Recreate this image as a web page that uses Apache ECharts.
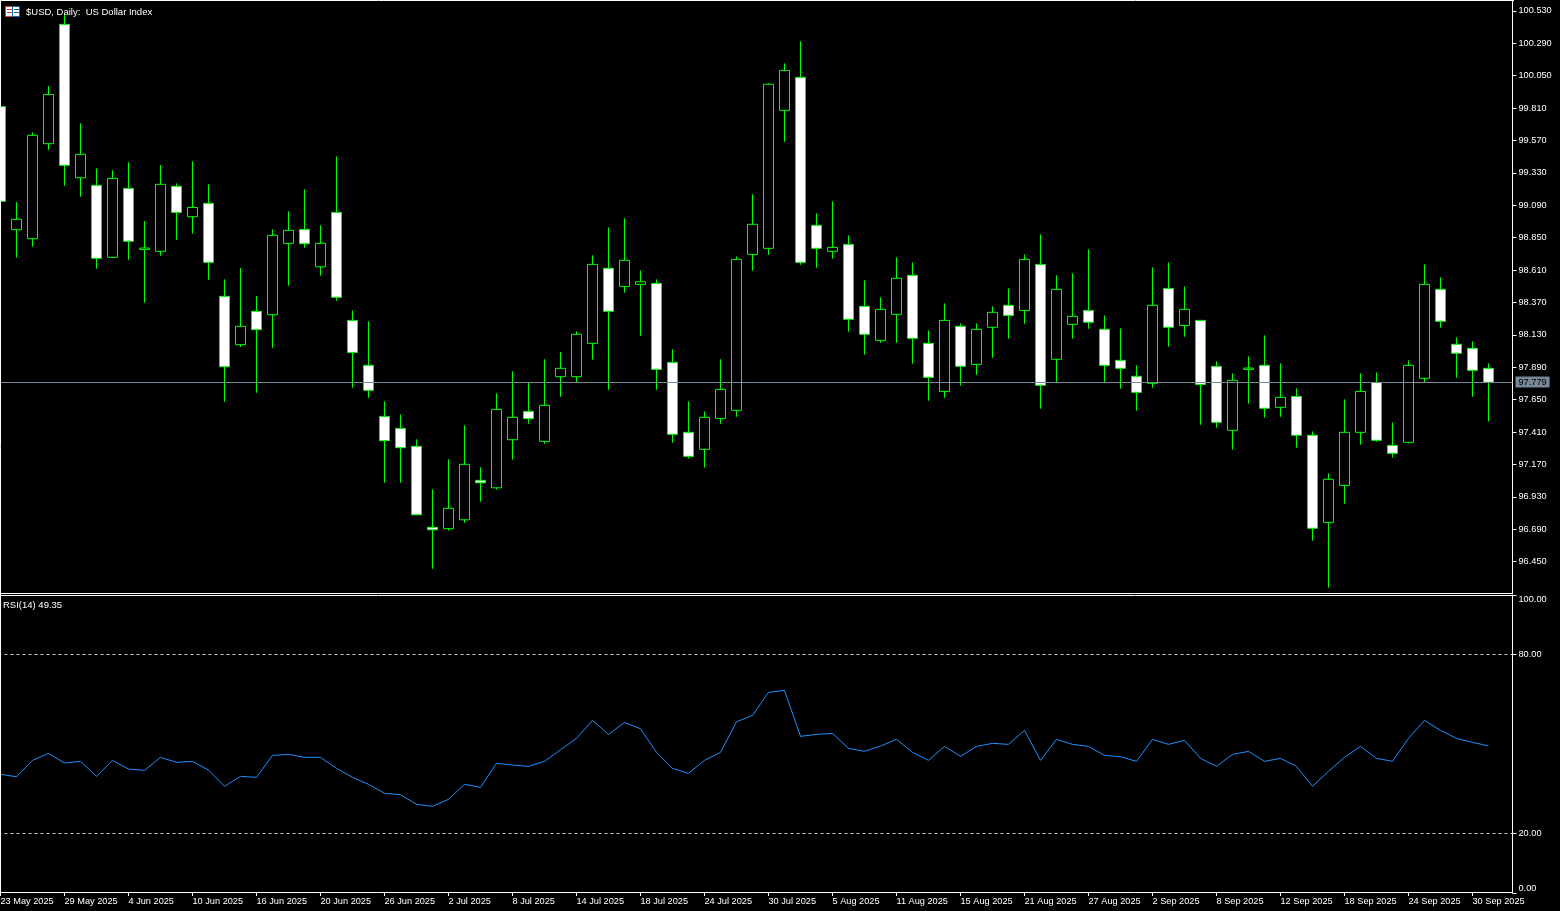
<!DOCTYPE html>
<html>
<head>
<meta charset="utf-8">
<title>$USD, Daily</title>
<script src="https://cdn.jsdelivr.net/npm/echarts@6/dist/echarts.min.js"></script>
<style>
html, body { margin: 0; padding: 0; background: #000; }
#chart { width: 1560px; height: 911px; }
</style>
</head>
<body>
<div id="chart"></div>
<script>
const dates = [
    "23 May 2025", "26 May 2025", "27 May 2025", "28 May 2025", "29 May 2025", "30 May 2025", "2 Jun 2025", "3 Jun 2025",
    "4 Jun 2025", "5 Jun 2025", "6 Jun 2025", "9 Jun 2025", "10 Jun 2025", "11 Jun 2025", "12 Jun 2025", "13 Jun 2025",
    "16 Jun 2025", "17 Jun 2025", "18 Jun 2025", "19 Jun 2025", "20 Jun 2025", "23 Jun 2025", "24 Jun 2025", "25 Jun 2025",
    "26 Jun 2025", "27 Jun 2025", "30 Jun 2025", "1 Jul 2025", "2 Jul 2025", "3 Jul 2025", "4 Jul 2025", "7 Jul 2025",
    "8 Jul 2025", "9 Jul 2025", "10 Jul 2025", "11 Jul 2025", "14 Jul 2025", "15 Jul 2025", "16 Jul 2025", "17 Jul 2025",
    "18 Jul 2025", "21 Jul 2025", "22 Jul 2025", "23 Jul 2025", "24 Jul 2025", "25 Jul 2025", "28 Jul 2025", "29 Jul 2025",
    "30 Jul 2025", "31 Jul 2025", "1 Aug 2025", "4 Aug 2025", "5 Aug 2025", "6 Aug 2025", "7 Aug 2025", "8 Aug 2025",
    "11 Aug 2025", "12 Aug 2025", "13 Aug 2025", "14 Aug 2025", "15 Aug 2025", "18 Aug 2025", "19 Aug 2025", "20 Aug 2025",
    "21 Aug 2025", "22 Aug 2025", "25 Aug 2025", "26 Aug 2025", "27 Aug 2025", "28 Aug 2025", "29 Aug 2025", "1 Sep 2025",
    "2 Sep 2025", "3 Sep 2025", "4 Sep 2025", "5 Sep 2025", "8 Sep 2025", "9 Sep 2025", "10 Sep 2025", "11 Sep 2025",
    "12 Sep 2025", "15 Sep 2025", "16 Sep 2025", "17 Sep 2025", "18 Sep 2025", "19 Sep 2025", "22 Sep 2025", "23 Sep 2025",
    "24 Sep 2025", "25 Sep 2025", "26 Sep 2025", "29 Sep 2025", "30 Sep 2025", "1 Oct 2025"
];
const opens = [
    99.820, 98.909, 98.842, 99.546, 100.430, 99.294, 99.237, 98.704, 99.215, 98.763,
    98.749, 99.230, 99.005, 99.104, 98.415, 98.057, 98.304, 98.279, 98.808, 98.911,
    98.634, 99.037, 98.237, 97.904, 97.526, 97.437, 97.304, 96.704, 96.694, 96.760,
    97.052, 96.997, 97.353, 97.563, 97.341, 97.820, 97.820, 98.067, 98.623, 98.489,
    98.504, 98.511, 97.926, 97.408, 97.282, 97.511, 97.571, 98.726, 98.771, 99.793,
    100.037, 98.941, 98.749, 98.800, 98.341, 98.089, 98.282, 98.571, 98.067, 97.711,
    98.193, 97.911, 98.186, 98.349, 98.311, 98.652, 97.949, 98.208, 98.311, 98.171,
    97.941, 97.823, 97.771, 98.474, 98.200, 98.237, 97.897, 97.423, 97.874, 97.904,
    97.593, 97.674, 97.386, 96.741, 97.015, 97.408, 97.778, 97.311, 97.334, 97.808,
    98.467, 98.060, 98.030, 97.882
];
const closes = [
    99.119, 98.986, 99.608, 99.911, 99.386, 99.467, 98.697, 99.289, 98.823, 98.773,
    99.245, 99.037, 99.074, 98.667, 97.894, 98.193, 98.168, 98.867, 98.904, 98.805,
    98.808, 98.408, 98.000, 97.719, 97.346, 97.294, 96.797, 96.686, 96.845, 97.171,
    97.034, 97.578, 97.519, 97.509, 97.608, 97.882, 98.134, 98.652, 98.304, 98.682,
    98.523, 97.874, 97.393, 97.230, 97.519, 97.726, 98.689, 98.949, 99.986, 100.089,
    98.667, 98.771, 98.778, 98.245, 98.134, 98.319, 98.549, 98.104, 97.815, 98.237,
    97.897, 98.171, 98.297, 98.274, 98.689, 97.756, 98.467, 98.267, 98.223, 97.904,
    97.882, 97.704, 98.349, 98.186, 98.319, 97.763, 97.482, 97.793, 97.884, 97.586,
    97.667, 97.386, 96.697, 97.060, 97.408, 97.711, 97.349, 97.252, 97.904, 98.504,
    98.230, 97.993, 97.867, 97.779
];
const lows = [
    99.119, 98.701, 98.783, 99.501, 99.234, 99.153, 98.620, 98.704, 98.686, 98.368,
    98.716, 98.834, 98.879, 98.538, 97.634, 98.040, 97.701, 98.034, 98.494, 98.775,
    98.568, 98.383, 97.738, 97.664, 97.034, 97.034, 96.797, 96.397, 96.679, 96.738,
    96.894, 96.983, 97.205, 97.471, 97.323, 97.671, 97.780, 97.946, 97.723, 98.442,
    98.123, 97.723, 97.331, 97.212, 97.146, 97.471, 97.523, 98.605, 98.723, 99.560,
    98.649, 98.627, 98.694, 98.153, 97.983, 98.071, 98.071, 97.916, 97.642, 97.664,
    97.753, 97.834, 97.960, 98.101, 98.212, 97.583, 97.778, 98.101, 98.175, 97.778,
    97.731, 97.568, 97.738, 98.042, 98.116, 97.464, 97.442, 97.279, 97.620, 97.516,
    97.523, 97.294, 96.605, 96.257, 96.879, 97.316, 97.338, 97.220, 97.326, 97.778,
    98.183, 97.812, 97.671, 97.489
];
const highs = [
    99.820, 99.114, 99.630, 99.973, 100.511, 99.697, 99.363, 99.349, 99.408, 98.973,
    99.388, 99.252, 99.415, 99.245, 98.541, 98.625, 98.417, 98.911, 99.045, 99.208,
    98.941, 99.452, 98.311, 98.230, 97.637, 97.541, 97.356, 96.986, 97.208, 97.460,
    97.149, 97.697, 97.860, 97.775, 97.949, 98.003, 98.156, 98.719, 98.926, 98.993,
    98.608, 98.541, 98.023, 97.637, 97.563, 97.949, 98.711, 99.171, 99.993, 100.141,
    100.304, 99.030, 99.119, 98.867, 98.534, 98.408, 98.704, 98.667, 98.163, 98.363,
    98.215, 98.215, 98.341, 98.474, 98.726, 98.874, 98.571, 98.586, 98.763, 98.274,
    98.178, 97.904, 98.630, 98.667, 98.489, 98.237, 97.934, 97.845, 97.971, 98.126,
    97.919, 97.734, 97.415, 97.104, 97.652, 97.845, 97.852, 97.482, 97.941, 98.652,
    98.556, 98.111, 98.082, 97.919
];
const rsiValues = [
    39.82, 39.01, 44.51, 46.86, 43.61, 44.18, 39.15, 44.51, 41.60, 41.16,
    45.52, 43.84, 44.18, 41.26, 35.79, 39.15, 38.81, 46.19, 46.53, 45.52,
    45.52, 41.83, 38.81, 36.47, 33.45, 32.98, 29.76, 29.09, 31.44, 36.47,
    35.46, 43.51, 42.94, 42.50, 44.18, 48.07, 51.89, 57.93, 53.23, 57.26,
    55.11, 47.20, 41.83, 40.15, 44.51, 47.20, 57.46, 59.60, 67.32, 67.99,
    52.56, 53.23, 53.57, 48.54, 47.53, 49.31, 51.56, 47.20, 44.51, 49.21,
    45.86, 49.21, 50.22, 49.88, 54.57, 44.51, 51.56, 49.88, 49.21, 46.19,
    45.72, 44.18, 51.56, 49.88, 51.22, 45.18, 42.50, 46.53, 47.53, 44.18,
    45.18, 42.50, 35.79, 40.83, 45.52, 49.21, 45.18, 44.18, 51.89, 57.93,
    54.57, 51.89, 50.55, 49.35
];
const priceTicks = [100.53, 100.29, 100.05, 99.81, 99.57, 99.33, 99.09, 98.85, 98.61, 98.37, 98.13, 97.89, 97.65, 97.41, 97.17, 96.93, 96.69, 96.45];
const rsiTicks = [0, 20, 80, 100];
const rsiLevels = [20, 80];
const lastPrice = 97.779;

const FONT = "Liberation Sans";
const FRAME = "#ffffff";
// one empty slot on the right keeps the gap before the price scale
const axisDates = [...dates, ""];
const candles = dates.map((_, i) => [opens[i], closes[i], lows[i], highs[i]]);
const everyFourth = (i) => i % 4 === 0 && i < dates.length;

const chart = echarts.init(document.getElementById("chart"), null, { renderer: "canvas" });
chart.setOption({
    animation: false,
    backgroundColor: "#000000",
    title: [
        {
            text: "$USD, Daily:  US Dollar Index",
            left: 26,
            top: 7,
            padding: 0,
            textStyle: { color: "#fff", fontFamily: FONT, fontSize: 9.5, fontWeight: "normal" },
        },
        {
            text: "RSI(14) 49.35",
            left: 3,
            top: 600,
            padding: 0,
            textStyle: { color: "#fff", fontFamily: FONT, fontSize: 9.5, fontWeight: "normal" },
        },
    ],
    // the first candle sits half off the left edge, so the grids start left of the canvas
    grid: [
        { left: -7.5, width: 1520, top: 1, height: 592.5, outerBoundsMode: "none" },
        { left: -7.5, width: 1520, top: 595, height: 298, outerBoundsMode: "none" },
    ],
    xAxis: [
        {
            type: "category",
            gridIndex: 0,
            data: axisDates,
            axisLine: { lineStyle: { color: FRAME } },
            axisTick: { show: false },
            axisLabel: { show: false },
            splitLine: { show: false },
        },
        {
            type: "category",
            gridIndex: 1,
            data: axisDates,
            offset: -1,
            axisLine: { lineStyle: { color: FRAME } },
            axisTick: { show: true, alignWithLabel: true, interval: (i) => everyFourth(i), length: 4, lineStyle: { color: FRAME } },
            axisLabel: {
                interval: (i) => everyFourth(i),
                align: "left",
                margin: 5,
                color: "#fff",
                fontFamily: FONT,
                fontSize: 9.2,
            },
            splitLine: { show: false },
        },
    ],
    yAxis: [
        {
            type: "value",
            gridIndex: 0,
            position: "right",
            min: 96.214,
            max: 100.603,
            axisLine: { show: true, lineStyle: { color: FRAME } },
            axisTick: { show: true, length: 4, customValues: priceTicks, lineStyle: { color: FRAME } },
            axisLabel: {
                customValues: priceTicks,
                formatter: (v) => v.toFixed(3),
                margin: 6,
                color: "#fff",
                fontFamily: FONT,
                fontSize: 9.2,
            },
            splitLine: { show: false },
        },
        {
            type: "value",
            gridIndex: 1,
            position: "right",
            min: 0,
            max: 100,
            axisLine: { show: true, lineStyle: { color: FRAME } },
            axisTick: { show: true, length: 4, customValues: rsiTicks, lineStyle: { color: FRAME } },
            axisLabel: {
                customValues: rsiTicks,
                formatter: (v) => v.toFixed(2),
                margin: 6,
                verticalAlignMinLabel: "bottom",
                verticalAlignMaxLabel: "top",
                color: "#fff",
                fontFamily: FONT,
                fontSize: 9.2,
            },
            splitLine: { show: false },
        },
    ],
    series: [
        {
            name: "$USD",
            type: "candlestick",
            xAxisIndex: 0,
            yAxisIndex: 0,
            barWidth: 10,
            data: candles,
            itemStyle: {
                color: "#000000",
                color0: "#ffffff",
                borderColor: "#00ff00",
                borderColor0: "#00ff00",
                borderWidth: 1,
            },
            markLine: {
                silent: true,
                symbol: "none",
                animation: false,
                lineStyle: { color: "#778899", type: "solid", width: 1 },
                label: {
                    show: true,
                    position: "end",
                    formatter: () => lastPrice.toFixed(3),
                    distance: 3,
                    color: "#000",
                    backgroundColor: "#778899",
                    padding: [1, 3, 1, 3],
                    fontFamily: FONT,
                    fontSize: 9.2,
                },
                data: [{ yAxis: lastPrice }],
            },
        },
        {
            name: "RSI(14)",
            type: "line",
            xAxisIndex: 1,
            yAxisIndex: 1,
            data: rsiValues,
            showSymbol: false,
            smooth: false,
            lineStyle: { color: "#1e90ff", width: 1 },
            markLine: {
                silent: true,
                symbol: "none",
                animation: false,
                label: { show: false },
                lineStyle: { color: "#c8c8c8", type: [3, 3], width: 1 },
                data: rsiLevels.map((v) => ({ yAxis: v })),
            },
        },
    ],
    graphic: [
        // frame pieces the axes do not draw
        { type: "line", silent: true, z: 50, shape: { x1: 0.5, y1: 0, x2: 0.5, y2: 893 }, style: { stroke: FRAME, lineWidth: 1 } },
        { type: "line", silent: true, z: 50, shape: { x1: 0, y1: 0.5, x2: 1514, y2: 0.5 }, style: { stroke: FRAME, lineWidth: 1 } },
        { type: "line", silent: true, z: 50, shape: { x1: 0, y1: 595.5, x2: 1514, y2: 595.5 }, style: { stroke: FRAME, lineWidth: 1 } },
        // symbol icon next to the title
        { type: "rect", silent: true, z: 50, shape: { x: 5.5, y: 6.5, width: 7, height: 10 }, style: { fill: "#fff", stroke: "#d8402c", lineWidth: 1 } },
        { type: "rect", silent: true, z: 50, shape: { x: 12.5, y: 6.5, width: 7, height: 10 }, style: { fill: "#fff", stroke: "#0f5fa8", lineWidth: 1 } },
        { type: "rect", silent: true, z: 51, shape: { x: 7, y: 9, width: 5, height: 1 }, style: { fill: "#d8402c" } },
        { type: "rect", silent: true, z: 51, shape: { x: 7, y: 12, width: 5, height: 1 }, style: { fill: "#d8402c" } },
        { type: "rect", silent: true, z: 51, shape: { x: 14, y: 9, width: 5, height: 1 }, style: { fill: "#0f5fa8" } },
        { type: "rect", silent: true, z: 51, shape: { x: 14, y: 12, width: 5, height: 1 }, style: { fill: "#0f5fa8" } },
    ],
});
window.addEventListener("resize", () => chart.resize());
</script>
</body>
</html>
